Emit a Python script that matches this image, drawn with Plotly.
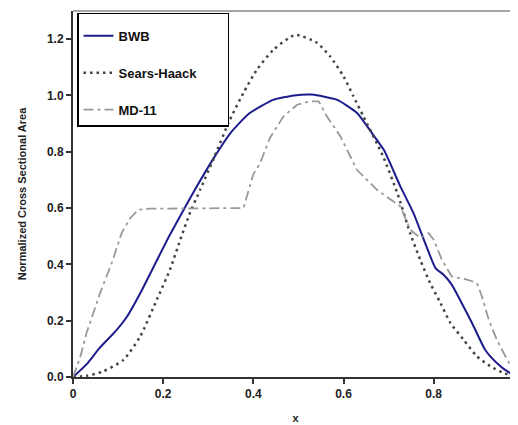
import plotly.graph_objects as go

# BWB
bwb_x = [0, 0.03, 0.06, 0.093, 0.12, 0.15, 0.18, 0.21, 0.24, 0.27, 0.31, 0.35, 0.39, 0.445, 0.49, 0.53,
         0.585, 0.63, 0.665, 0.69, 0.726, 0.755, 0.78, 0.804, 0.822, 0.84, 0.862, 0.885, 0.914, 0.94, 0.965, 0.987]
bwb_y = [0, 0.045, 0.105, 0.16, 0.215, 0.30, 0.395, 0.49, 0.578, 0.664, 0.772, 0.868, 0.935, 0.985, 1.0, 1.003,
         0.985, 0.938, 0.862, 0.805, 0.677, 0.583, 0.48, 0.387, 0.363, 0.328, 0.263, 0.192, 0.097, 0.05, 0.018, 0]

# Sears-Haack
sh_x = [0, 0.03, 0.067, 0.112, 0.149, 0.186, 0.215, 0.238, 0.26, 0.282, 0.311, 0.348, 0.378, 0.408, 0.445,
        0.493, 0.541, 0.57, 0.60, 0.622, 0.644, 0.688, 0.72, 0.748, 0.77, 0.792, 0.815, 0.837, 0.866, 0.896,
        0.926, 0.955, 0.987]
sh_y = [0, 0.004, 0.02, 0.061, 0.144, 0.275, 0.381, 0.488, 0.585, 0.665, 0.772, 0.914, 1.009, 1.092, 1.163,
        1.215, 1.187, 1.139, 1.068, 0.997, 0.926, 0.783, 0.65, 0.51, 0.417, 0.334, 0.263, 0.192, 0.133, 0.073,
        0.038, 0.014, 0]

# MD-11
md_x = [0, 0.016, 0.03, 0.06, 0.086, 0.108, 0.127, 0.145, 0.171, 0.378, 0.40, 0.415, 0.437, 0.467, 0.497,
        0.526, 0.545, 0.563, 0.593, 0.63, 0.675, 0.726, 0.748, 0.77, 0.789, 0.80, 0.818, 0.84, 0.874, 0.896,
        0.907, 0.922, 0.94, 0.963, 0.987]
md_y = [0, 0.07, 0.156, 0.298, 0.405, 0.512, 0.565, 0.594, 0.598, 0.60, 0.72, 0.76, 0.85, 0.926, 0.967,
        0.979, 0.979, 0.926, 0.855, 0.735, 0.664, 0.606, 0.523, 0.494, 0.511, 0.488, 0.417, 0.357, 0.346, 0.334,
        0.286, 0.204, 0.133, 0.061, 0]

x_ticks = [0, 0.2, 0.4, 0.6, 0.8]
x_ticktext = ["0", "0.2", "0.4", "0.6", "0.8"]
y_ticks = [0, 0.2, 0.4, 0.6, 0.8, 1.0, 1.2]

FONT = "Liberation Sans, Arial, sans-serif"
PAD = "\u00a0" * 7

fig = go.Figure()
fig.add_trace(go.Scatter(x=bwb_x, y=bwb_y, mode="lines", name="BWB", legendgroup="a",
                         line=dict(color="#1c1c8c", width=2, shape="spline", smoothing=0.5)))
fig.add_trace(go.Scatter(x=sh_x, y=sh_y, mode="lines", name="Sears-Haack" + PAD, legendgroup="b",
                         line=dict(color="#444444", width=2.5, dash="2.5px,4px", shape="spline", smoothing=0.6)))
fig.add_trace(go.Scatter(x=md_x, y=md_y, mode="lines", name="MD-11", legendgroup="c",
                         line=dict(color="#999999", width=1.8, dash="10px,4px,3px,4px")))

fig.update_layout(
    width=518, height=425,
    margin=dict(l=65, r=8, t=3, b=56, autoexpand=False),
    plot_bgcolor="white", paper_bgcolor="white",
    font=dict(family=FONT, color="#222222"),
    showlegend=True,
    legend=dict(x=0.009, y=0.995, xanchor="left", yanchor="top",
                bordercolor="black", borderwidth=1.5, bgcolor="white",
                font=dict(size=13, weight="bold", color="#111111"),
                title=dict(text="\u00a0", font=dict(size=5)),
                tracegroupgap=17, traceorder="grouped"),
    xaxis=dict(range=[0, 0.987], tickvals=x_ticks, ticktext=x_ticktext, automargin=False,
               showgrid=False, zeroline=False, showline=True, linecolor="#333333", linewidth=2,
               ticks="outside", ticklen=5, tickwidth=1.5, tickcolor="#333333",
               tickfont=dict(size=12, weight="bold"),
               title=dict(text="x", font=dict(size=11, weight="bold"), standoff=14)),
    yaxis=dict(range=[0, 1.3], tickvals=y_ticks, tickformat=".1f", automargin=False,
               showgrid=False, zeroline=False, showline=True, linecolor="#333333", linewidth=2,
               ticks="outside", ticklen=5, tickwidth=1.5, tickcolor="#333333",
               tickfont=dict(size=12, weight="bold"),
               title=dict(text="Normalized Cross Sectional Area", font=dict(size=11, weight="bold"), standoff=18)),
    shapes=[dict(type="line", xref="paper", yref="paper", x0=0, x1=1, y0=1, y1=1,
                 line=dict(color="#888888", width=1.5))],
)

fig.write_html("out.html")
